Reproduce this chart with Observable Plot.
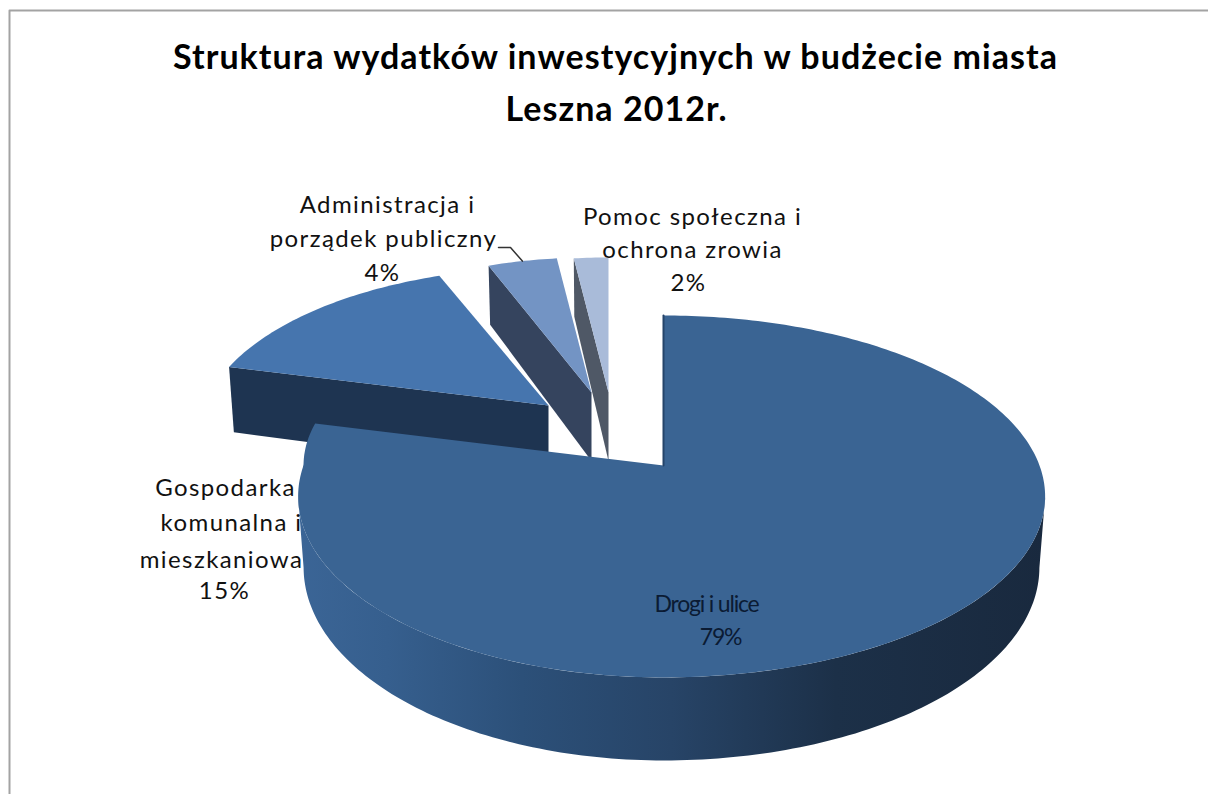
<!DOCTYPE html>
<html lang="pl">
<head>
<meta charset="utf-8">
<script src="https://cdn.jsdelivr.net/npm/d3@7"></script>
<script src="https://cdn.jsdelivr.net/npm/@observablehq/plot@0.6"></script>
<style>
html,body{margin:0;padding:0;background:#fff;}
svg{display:block;}
text{font-family:Lato,"Open Sans",sans-serif;}
.ttl text{letter-spacing:1.05px;font-weight:700;}
.lbl text{letter-spacing:1.4px;}
.inner text{letter-spacing:-1.2px;}
</style>
</head>
<body>
<div id="chart"></div>
<script>
// Data
const categories = ["Drogi i ulice","Gospodarka komunalna i mieszkaniowa","Administracja i porządek publiczny","Pomoc społeczna i ochrona zrowia"];
const values = [79,15,4,2];
const titleLines = ["Struktura wydatków inwestycyjnych w budżecie miasta","Leszna 2012r."];
const topColors = ["#3a6493","#4675ae","#7394c4","#a9bbd9"];
const sideColors = ["url(#rim)","#1e3451","#35445e","#4f5866"];

// Projection of the tilted pie (a layout, not data)
const apexes = [[663,465],[548,405],[591,392],[608,392]];
const scaleX = [1,.955,.9,.9];
const scaleY = [1,.92,.9,.9];
const depths = [68.8,74,76,76];
const k=.171, Ry=175.7, RxL=360, RxR=376;
function proj(deg,i,drop=false){
  const a=deg*Math.PI/180,u=Math.sin(a),v=Math.cos(a),w=1+k*v,[ax,ay]=apexes[i];
  const Rx=u<0?RxL+(i===0?60*Math.max(v,0):0):RxR;
  let x=ax+scaleX[i]*Rx*u/w, y=ay-scaleY[i]*Ry*v/w;
  if(drop){ x=ax+(x-ax)*.985; y+=scaleY[i]*depths[i]/w; }
  return {x,y};
}
function arcPts(a0,a1,i,drop=false){
  const n=Math.max(2,Math.ceil(Math.abs(a1-a0)));
  return d3.range(n+1).map(t=>proj(a0+(a1-a0)*t/n,i,drop));
}
const total=d3.sum(values);
let acc=0;
const spans=values.map(v=>{const a=acc;acc+=v/total*360;return [a,acc];});

const face=(pts,fill)=>Plot.line(pts,{x:"x",y:"y",fill,stroke:"none",curve:"linear"});
const marks=[];
// gradient used by the big slice rim
marks.push(()=>{
  const defs=d3.create("svg:defs");
  const g=defs.append("linearGradient").attr("id","rim").attr("gradientUnits","userSpaceOnUse")
    .attr("x1",297).attr("x2",1045).attr("y1",0).attr("y2",0);
  [[0,"#3b6596"],[.12,"#365f8e"],[.3,"#2c5079"],[.5,"#274467"],[.72,"#1c3048"],[1,"#19293e"]]
    .forEach(([o,c])=>g.append("stop").attr("offset",o).attr("stop-color",c));
  return defs.node();
});
// small slices: painted back to front
[3,2,1].forEach(i=>{
  const [a0,a1]=spans[i], apex=apexes[i];
  const wall=[proj(a0,i),{x:apex[0],y:apex[1]},{x:apex[0],y:apex[1]+scaleY[i]*depths[i]},proj(a0,i,true)];
  marks.push(face(wall,sideColors[i]));
  marks.push(face([{x:apex[0],y:apex[1]},...arcPts(a0,a1,i)],topColors[i]));
});
// big slice: rim between the two silhouette tangents, then its top
{
  const [a0,a1]=spans[0],apex=apexes[0];
  const rim=[...arcPts(100,260,0),...arcPts(260,100,0,true)];
  marks.push(face(rim,sideColors[0]));
  marks.push(face([{x:apex[0],y:apex[1]},...arcPts(a0,a1,0)],topColors[0]));
  marks.push(Plot.line([proj(0,0),{x:apex[0],y:apex[1]}],{x:"x",y:"y",stroke:"#25446a",strokeWidth:2}));
}
// chart frame
const frame=[{x:9,y:794},{x:9,y:10},{x:1208,y:10}];
marks.push(Plot.line(frame,{x:"x",y:"y",stroke:"#a3a3a3",strokeWidth:2}));

// leader line from the label to the rim of its slice
const rimMid=proj((spans[2][0]+spans[2][1])/2,2);
marks.push(Plot.line([{x:498,y:247},{x:510,y:247},rimMid],{x:"x",y:"y",stroke:"#333",strokeWidth:1.5}));

// texts
const txt=(rows,cls,size,fill="#111")=>Plot.text(rows,{x:"x",y:"y",text:"t",fontSize:size,fill,textAnchor:"middle",lineAnchor:"middle",className:cls});
marks.push(txt([{x:615,y:58,t:titleLines[0]},{x:616,y:110,t:titleLines[1]}],"ttl",34,"#000"));
marks.push(txt([
 {x:387,y:205,t:"Administracja i"},{x:383,y:239,t:"porządek publiczny"},{x:382,y:273,t:values[2]+"%"},
 {x:692,y:217,t:"Pomoc społeczna i"},{x:692,y:250,t:"ochrona zrowia"},{x:688,y:283,t:values[3]+"%"},
 {x:225,y:488,t:"Gospodarka"},{x:231,y:523,t:"komunalna i"},{x:221,y:560,t:"mieszkaniowa"},{x:224,y:591,t:values[1]+"%"}
],"lbl",24));
marks.push(txt([{x:706,y:604,t:categories[0]},{x:720,y:637,t:values[0]+"%"}],"inner",23,"#0b1b33"));

const chart=Plot.plot({width:1208,height:794,margin:0,
  x:{domain:[0,1208],range:[0,1208],axis:null},
  y:{domain:[0,794],range:[0,794],axis:null},
  style:{background:"#fff"},marks});
document.getElementById("chart").append(chart);
</script>
</body>
</html>
